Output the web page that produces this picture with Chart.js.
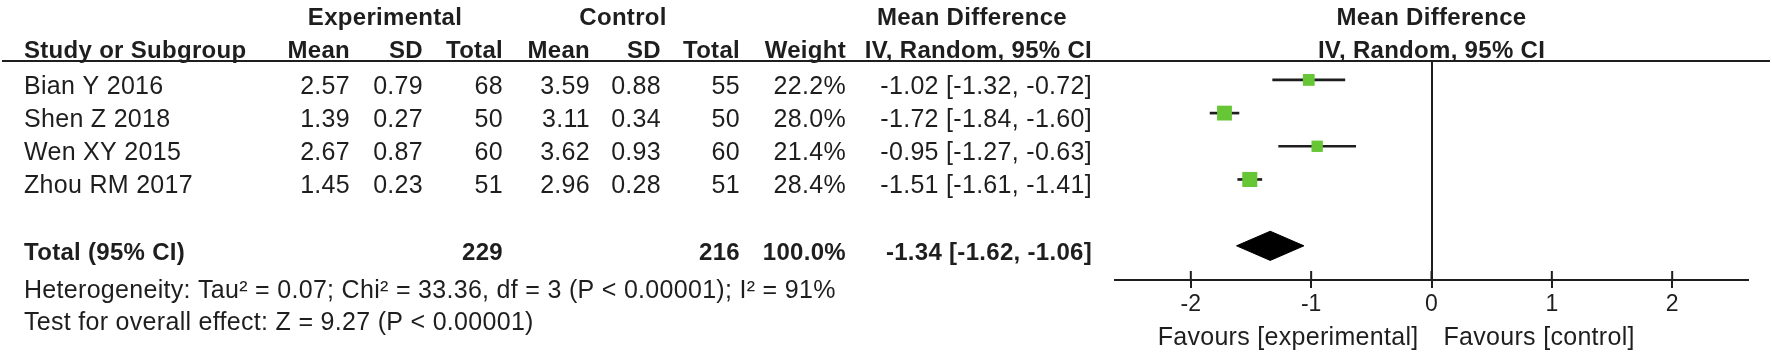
<!DOCTYPE html>
<html>
<head>
<meta charset="utf-8">
<script src="https://cdn.jsdelivr.net/npm/chart.js@4/dist/chart.umd.min.js"></script>
<style>
  html, body { margin: 0; padding: 0; background: #ffffff; }
  #plot { display: block; }
</style>
</head>
<body>
<canvas id="plot" width="1772" height="355"></canvas>
<script>
// study table
const studies   = ['Bian Y 2016', 'Shen Z 2018', 'Wen XY 2015', 'Zhou RM 2017']
const expMean   = ['2.57', '1.39', '2.67', '1.45']
const expSD     = ['0.79', '0.27', '0.87', '0.23']
const expTotal  = [68, 50, 60, 51]
const ctrlMean  = ['3.59', '3.11', '3.62', '2.96']
const ctrlSD    = ['0.88', '0.34', '0.93', '0.28']
const ctrlTotal = [55, 50, 60, 51]
const weights   = [22.2, 28.0, 21.4, 28.4]
const md        = [-1.02, -1.72, -0.95, -1.51]
const ciLow     = [-1.32, -1.84, -1.27, -1.61]
const ciHigh    = [-0.72, -1.60, -0.63, -1.41]

// pooled result
const totalRow = 5
const pooled = { md: -1.34, low: -1.62, high: -1.06, expN: 229, ctrlN: 216, weight: '100.0%' }
const xTicks = [-2, -1, 0, 1, 2]

const heterogeneity = 'Heterogeneity: Tau\u00b2 = 0.07; Chi\u00b2 = 33.36, df = 3 (P < 0.00001); I\u00b2 = 91%'
const overallEffect = 'Test for overall effect: Z = 9.27 (P < 0.00001)'

const INK = '#1e1e1e'
const GREEN = '#66c635'
const REG = '25px "Liberation Sans", Arial, sans-serif'
const BOLD = 'bold 24px "Liberation Sans", Arial, sans-serif'

const fmt = v => v.toFixed(2)
const ciText = (m, lo, hi) => fmt(m) + ' [' + fmt(lo) + ', ' + fmt(hi) + ']'

// table text + upper halves of tick marks
const tablePlugin = {
  id: 'forestTable',
  afterDraw(chart) {
    const ctx = chart.ctx
    const xs = chart.scales.x
    const ys = chart.scales.y
    const area = chart.chartArea
    ctx.save()
    ctx.fillStyle = INK
    ctx.textBaseline = 'alphabetic'

    const put = (t, x, y, align, font) => {
      ctx.font = font
      ctx.letterSpacing = font === REG ? '0.3px' : '0.3px'
      ctx.textAlign = align
      ctx.fillText(String(t), x, y)
    }

    // headers
    put('Experimental', 385, 25, 'center', BOLD)
    put('Control', 623, 25, 'center', BOLD)
    put('Mean Difference', 972, 25, 'center', BOLD)
    put('Mean Difference', xs.getPixelForValue(0), 25, 'center', BOLD)
    const hy = 58
    put('Study or Subgroup', 24, hy, 'left', BOLD)
    put('Mean', 350, hy, 'right', BOLD)
    put('SD', 423, hy, 'right', BOLD)
    put('Total', 503, hy, 'right', BOLD)
    put('Mean', 590, hy, 'right', BOLD)
    put('SD', 661, hy, 'right', BOLD)
    put('Total', 740, hy, 'right', BOLD)
    put('Weight', 846, hy, 'right', BOLD)
    put('IV, Random, 95% CI', 1092, hy, 'right', BOLD)
    put('IV, Random, 95% CI', xs.getPixelForValue(0), hy, 'center', BOLD)

    // header rule
    ctx.strokeStyle = INK
    ctx.lineWidth = 2
    ctx.beginPath()
    ctx.moveTo(2, area.top)
    ctx.lineTo(1770, area.top)
    ctx.stroke()

    // study rows
    studies.forEach((s, i) => {
      const y = ys.getPixelForValue(i) + 14
      put(s, 24, y, 'left', REG)
      put(expMean[i], 350, y, 'right', REG)
      put(expSD[i], 423, y, 'right', REG)
      put(expTotal[i], 503, y, 'right', REG)
      put(ctrlMean[i], 590, y, 'right', REG)
      put(ctrlSD[i], 661, y, 'right', REG)
      put(ctrlTotal[i], 740, y, 'right', REG)
      put(weights[i].toFixed(1) + '%', 846, y, 'right', REG)
      put(ciText(md[i], ciLow[i], ciHigh[i]), 1092, y, 'right', REG)
    })

    // total row
    const ty = ys.getPixelForValue(totalRow) + 14
    put('Total (95% CI)', 24, ty, 'left', BOLD)
    put(pooled.expN, 503, ty, 'right', BOLD)
    put(pooled.ctrlN, 740, ty, 'right', BOLD)
    put(pooled.weight, 846, ty, 'right', BOLD)
    put(ciText(pooled.md, pooled.low, pooled.high), 1092, ty, 'right', BOLD)

    put(heterogeneity, 24, 298, 'left', REG)
    put(overallEffect, 24, 330, 'left', REG)

    // favours labels either side of zero
    const x0 = xs.getPixelForValue(0)
    put('Favours [experimental]', x0 - 13, 345, 'right', REG)
    put('Favours [control]', x0 + 12, 345, 'left', REG)

    // tick marks poke above the axis too
    ctx.beginPath()
    xTicks.forEach(v => {
      const px = xs.getPixelForValue(v)
      ctx.moveTo(px, area.bottom)
      ctx.lineTo(px, area.bottom - 9)
    })
    ctx.stroke()
    ctx.restore()
  }
}

const DIAMOND_HALF = 0.44

new Chart(document.getElementById('plot'), {
  type: 'scatter',
  data: {
    datasets: [
      {
        // confidence intervals as thin floating bars
        type: 'bar',
        indexAxis: 'y',
        data: studies.map((s, i) => ({ x: [ciLow[i], ciHigh[i]], y: i })),
        backgroundColor: INK,
        barThickness: 2,
        order: 3
      },
      {
        // study estimates, square size follows weight
        type: 'scatter',
        data: studies.map((s, i) => ({ x: md[i], y: i })),
        pointStyle: 'rect',
        pointRadius: weights.map(w => w * 0.53 / Math.SQRT2),
        backgroundColor: GREEN,
        borderWidth: 0,
        order: 1
      },
      {
        // pooled diamond
        type: 'line',
        data: [
          { x: pooled.low, y: totalRow },
          { x: pooled.md, y: totalRow - DIAMOND_HALF },
          { x: pooled.high, y: totalRow },
          { x: pooled.md, y: totalRow + DIAMOND_HALF },
          { x: pooled.low, y: totalRow }
        ],
        borderColor: '#000000',
        backgroundColor: '#000000',
        borderWidth: 1,
        pointRadius: 0,
        fill: 'shape',
        tension: 0,
        order: 2
      }
    ]
  },
  options: {
    responsive: false,
    animation: false,
    devicePixelRatio: 1,
    layout: { padding: { left: 1115, right: 24, top: 61, bottom: 0 } },
    plugins: { legend: { display: false }, tooltip: { enabled: false } },
    scales: {
      x: {
        type: 'linear',
        offset: false,
        min: -2.63,
        max: 2.63,
        afterFit(scale) { scale.height = 75 },
        afterBuildTicks(scale) { scale.ticks = xTicks.map(v => ({ value: v })) },
        ticks: {
          color: INK,
          font: { family: '"Liberation Sans", Arial, sans-serif', size: 23 },
          padding: 3,
          maxRotation: 0
        },
        grid: {
          offset: false,
          color: c => (c.tick && c.tick.value === 0 ? INK : 'rgba(0,0,0,0)'),
          lineWidth: 2,
          tickColor: INK,
          tickWidth: 2,
          tickLength: 8
        },
        border: { display: true, color: INK, width: 2 }
      },
      y: {
        type: 'linear',
        display: false,
        offset: false,
        reverse: true,
        min: -0.57,
        max: 6.03
      }
    }
  },
  plugins: [tablePlugin]
})
</script>
</body>
</html>
